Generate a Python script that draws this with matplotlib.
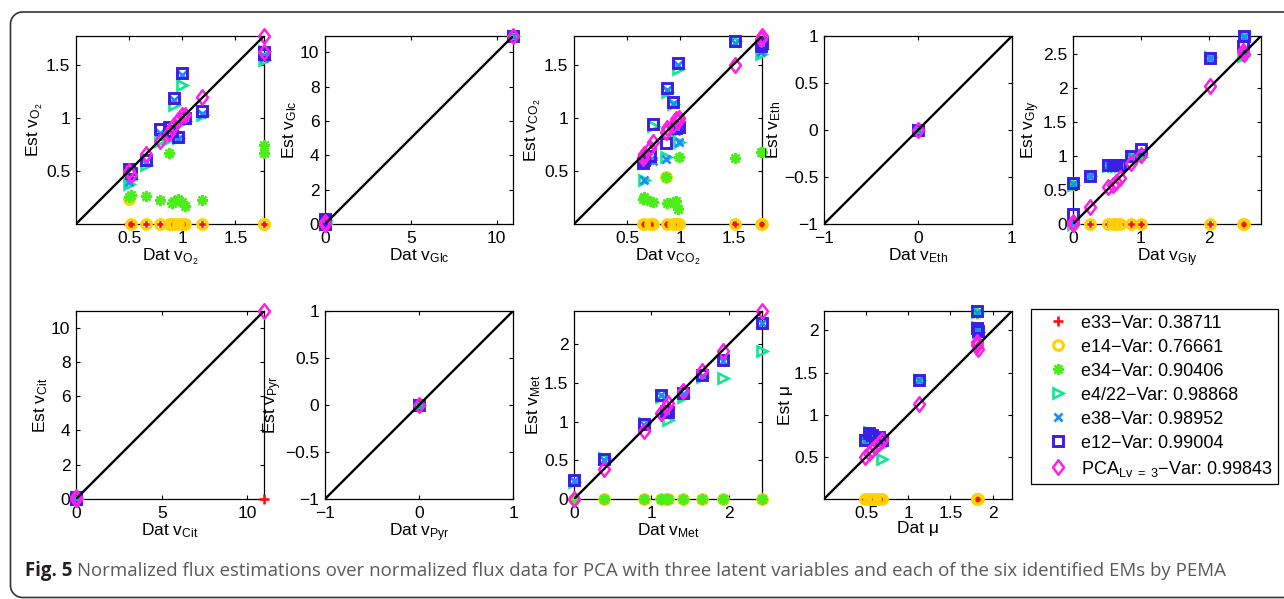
import math
import matplotlib
matplotlib.use("Agg")
import matplotlib.pyplot as plt
from matplotlib.lines import Line2D
from matplotlib.patches import PathPatch
from matplotlib.path import Path
from matplotlib.ticker import FuncFormatter
from matplotlib.transforms import IdentityTransform

plt.rcParams["font.family"] = ["Liberation Sans", "DejaVu Sans"]
plt.rcParams["mathtext.fontset"] = "custom"
plt.rcParams["mathtext.rm"] = "Liberation Sans"
plt.rcParams["mathtext.it"] = "Liberation Sans:italic"
plt.rcParams["mathtext.default"] = "regular"

NAN = float("nan")

# ---- elementary modes / PCA model and their explained variance ----
SERIES = ["e33", "e14", "e34", "e4/22", "e38", "e12", "PCA"]
VARIANCE = [0.38711, 0.76661, 0.90406, 0.98868, 0.98952, 0.99004, 0.99843]

# ---- normalized flux data (dat) and estimations per model, one block per flux ----
O2 = dict(
    dat=[0.50, 0.52, 0.66, 0.79, 0.88, 0.90, 0.92, 0.96, 1.00, 1.03, 1.19, 1.77, 1.77],
    e33=[0, 0, 0, 0, 0, 0, 0, 0, 0, 0, 0, 0, 0],
    e14=[0.24, 0, 0, 0, 0, 0, 0, 0, 0, 0, 0, 0, 0],
    e34=[0.25, 0.27, 0.26, 0.23, 0.67, 0.20, 0.22, 0.24, 0.21, 0.17, 0.23, 0.74, 0.67],
    e4_22=[0.38, 0.42, 0.56, 0.78, 0.80, 0.84, 1.12, 0.81, 1.31, 0.97, 1.03, 1.54, 1.63],
    e38=[0.40, 0.45, 0.58, 0.86, 0.88, 0.85, 1.17, 0.80, 1.40, 0.98, 1.04, 1.58, 1.56],
    e12=[0.52, 0.48, 0.60, 0.89, 0.91, 0.88, 1.19, 0.82, 1.42, 1.00, 1.06, 1.62, 1.60],
    pca=[0.50, 0.46, 0.66, 0.78, 0.86, 0.90, 0.93, 0.98, 1.03, 1.03, 1.20, 1.77, 1.62],
)
GLC = dict(
    dat=[0, 0, 0, 0, 10.95],
    e33=[0, 0, 0, 0, 10.95],
    e14=[0, 0, 0, 0, 10.95],
    e34=[0, 0, 0, 0, 10.95],
    e4_22=[0.25, 0.10, 0, 0, 10.95],
    e38=[0.20, 0.10, 0, 0, 10.95],
    e12=[0.30, 0.15, 0, 0, 10.95],
    pca=[0, 0.10, 0.05, 0, 10.95],
)
CO2 = dict(
    dat=[0.65, 0.66, 0.72, 0.74, 0.87, 0.88, 0.93, 0.96, 0.975, 0.99, 1.52, 1.76, 1.77],
    e33=[0, 0, 0, 0, 0, 0, 0, 0, 0, 0, 0, 0, 0],
    e14=[0, 0, 0, 0, 0.44, 0, 0, 0, 0, 0, 0, 0, 0],
    e34=[0.24, 0.25, 0.22, 0.21, 0.44, 0.20, 0.21, 0.22, 0.14, 0.63, 0.62, 0.68, 0.68],
    e4_22=[0.57, 0.41, 0.60, 0.92, 0.63, 1.24, 1.13, 0.88, 1.46, 0.77, 1.72, 1.60, 1.65],
    e38=[0.57, 0.41, 0.60, 0.59, 0.61, 1.26, 1.13, 0.88, 1.50, 0.77, 1.70, 1.62, 1.66],
    e12=[0.575, 0.60, 0.64, 0.94, 0.76, 1.28, 1.15, 0.90, 1.52, 0.91, 1.72, 1.68, 1.70],
    pca=[0.62, 0.66, 0.72, 0.77, 0.87, 0.90, 0.93, 0.99, 0.97, 1.00, 1.50, 1.74, 1.77],
)
ETH = dict(dat=[0], e33=[0], e14=[0], e34=[0], e4_22=[0], e38=[0], e12=[0], pca=[0])
GLY = dict(
    dat=[0, 0, 0.25, 0.51, 0.59, 0.63, 0.69, 0.86, 1.00, 2.02, 2.50, 2.52],
    e33=[0, 0, 0, 0, 0, 0, 0, 0, 0, 0, 0, 0],
    e14=[0, 0, 0, 0, 0, 0, 0, 0, 0, 0, 0, 0],
    e34=[0, 0.58, 0.70, 0.86, 0.86, 0.86, 0.86, 0.98, 1.00, 2.44, 2.47, 2.76],
    e4_22=[0, 0.57, 0.70, 0.86, 0.86, 0.86, 0.86, 0.98, 0.98, 2.46, 2.47, 2.76],
    e38=[0.02, 0.59, 0.71, 0.87, 0.87, 0.87, 0.87, 0.99, 1.05, 2.45, 2.55, 2.76],
    e12=[0.14, 0.60, 0.71, 0.87, 0.87, 0.87, 0.87, 1.00, 1.10, 2.45, 2.62, 2.77],
    pca=[0, 0.03, 0.25, 0.54, 0.58, 0.62, 0.68, 0.90, 1.02, 2.04, 2.55, 2.50],
)
CIT = dict(
    dat=[0, 0, 0, 10.97],
    e33=[0, 0, 0, 0],
    e14=[0, 0, 0, NAN],
    e34=[0, 0, 0, NAN],
    e4_22=[0, 0.05, 0, NAN],
    e38=[0, 0, 0, NAN],
    e12=[0, 0.10, 0, NAN],
    pca=[0, 0.10, 0, 10.97],
)
PYR = dict(dat=[0], e33=[0], e14=[0], e34=[0], e4_22=[0], e38=[0], e12=[0], pca=[0])
MET = dict(
    dat=[0, 0.385, 0.90, 1.13, 1.19, 1.22, 1.41, 1.65, 1.92, 2.43],
    e33=[0, 0, 0, 0, 0, 0, 0, 0, 0, 0],
    e14=[0, 0, 0, 0, 0, 0, 0, 0, 0, 0],
    e34=[0, 0, 0, 0, 0, 0, 0, 0, 0, 0],
    e4_22=[0.22, 0.53, 0.98, 1.32, 1.13, 1.02, 1.32, 1.58, 1.56, 1.91],
    e38=[0.23, 0.51, 0.96, 1.34, 1.13, 1.11, 1.36, 1.59, 1.79, 2.27],
    e12=[0.25, 0.52, 0.97, 1.35, 1.14, 1.12, 1.37, 1.60, 1.80, 2.28],
    pca=[0, 0.39, 0.88, 1.11, 1.19, 1.24, 1.40, 1.65, 1.91, 2.43],
)
MU = dict(
    dat=[0.49, 0.53, 0.57, 0.61, 0.65, 0.69, 1.13, 1.81, 1.82, 1.83],
    e33=[0, 0, 0, 0, 0, 0, 1.41, 0, 0, 0],
    e14=[0, 0, 0, 0, 0, 0, 1.41, 0, 0, 0],
    e34=[0.70, 0.78, 0.76, 0.71, 0.72, 0.68, 1.41, 2.21, 2.03, 1.98],
    e4_22=[0.70, 0.80, 0.76, 0.70, 0.62, 0.48, 1.41, 2.22, 2.04, 1.98],
    e38=[0.69, 0.77, 0.75, 0.71, 0.73, 0.68, 1.41, 2.21, 2.02, 1.98],
    e12=[0.70, 0.78, 0.76, 0.72, 0.74, 0.70, 1.41, 2.23, 2.03, 1.99],
    pca=[0.50, 0.54, 0.58, 0.62, 0.66, 0.70, 1.13, 1.83, 1.86, 1.78],
)

# axis labels and tick values per flux
FLUX_SUB = ["O_2", "Glc", "CO_2", "Eth", "Gly", "Cit", "Pyr", "Met", None]
FLUX_DATA = [O2, GLC, CO2, ETH, GLY, CIT, PYR, MET, MU]
X_TICKS = [[0.5, 1, 1.5], [0, 5, 10], [0.5, 1, 1.5], [-1, 0, 1], [0, 1, 2],
           [0, 5, 10], [-1, 0, 1], [0, 1, 2], [0.5, 1, 1.5, 2]]
Y_TICKS = [[0.5, 1, 1.5], [0, 2, 4, 6, 8, 10], [0.5, 1, 1.5], [-1, -0.5, 0, 0.5, 1],
           [0, 0.5, 1, 1.5, 2, 2.5], [0, 2, 4, 6, 8, 10], [-1, -0.5, 0, 0.5, 1],
           [0, 0.5, 1, 1.5, 2], [0.5, 1, 1.5, 2]]

# ---- marker styles ----
DIAMOND = Path([(0, 1), (0.75, 0), (0, -1), (-0.75, 0), (0, 1)],
               [Path.MOVETO, Path.LINETO, Path.LINETO, Path.LINETO, Path.CLOSEPOLY])
KEYS = ["e33", "e14", "e34", "e4_22", "e38", "e12", "pca"]
STYLES = [
    dict(marker="+", color="#ff1010", ms=6.5, mew=1.9),
    dict(marker="o", color="#ffd200", ms=7.0, mew=2.2),
    dict(marker=(8, 2, 0), color="#4ded1c", ms=8.0, mew=1.7),
    dict(marker=">", color="#12e690", ms=7.5, mew=1.9),
    dict(marker="x", color="#1a8cff", ms=5.5, mew=1.9),
    dict(marker="s", color="#3b1de6", ms=7.0, mew=2.1),
    dict(marker=DIAMOND, color="#ff1fe6", ms=10.5, mew=1.8),
]

W, H = 1284, 599
FS = 12.5
LEG_FS = 13.0
fig = plt.figure(figsize=(W / 100, H / 100), dpi=100)

COL_LEFT = [76, 325, 574, 824, 1073]
ROW_TOP = [36, 311]
SIZE = 188


def fmt(v, _pos):
    return ("%g" % v).replace("-", "\u2212")


for i, (data, sub) in enumerate(zip(FLUX_DATA, FLUX_SUB)):
    r, c = divmod(i, 5)
    ax = fig.add_axes([COL_LEFT[c] / W, 1 - (ROW_TOP[r] + SIZE) / H, SIZE / W, SIZE / H])
    for key, st in zip(KEYS, STYLES):
        ax.plot(data["dat"], data[key], linestyle="none", marker=st["marker"],
                markersize=st["ms"], markeredgewidth=st["mew"],
                markeredgecolor=st["color"], markerfacecolor="none",
                clip_on=False, zorder=3)
    values = [v for k in ["dat"] + KEYS for v in data[k] if not math.isnan(v)]
    lo, hi = min(values), max(values)
    if lo == hi:
        lo, hi = lo - 1, hi + 1
    ax.plot([lo, hi], [lo, hi], color="black", lw=1.7, zorder=4)
    ax.set_xlim(lo, hi)
    ax.set_ylim(lo, hi)
    ax.set_xticks(X_TICKS[i])
    ax.set_yticks(Y_TICKS[i])
    ax.xaxis.set_major_formatter(FuncFormatter(fmt))
    ax.yaxis.set_major_formatter(FuncFormatter(fmt))
    ax.tick_params(direction="in", length=3, width=0.8, top=True, right=True,
                   labelsize=FS, colors="black")
    ax.tick_params(axis="x", pad=5)
    ax.tick_params(axis="y", pad=4)
    for sp in ax.spines.values():
        sp.set_linewidth(0.9)
    if sub is None:
        ax.set_xlabel("Dat \u03bc", fontsize=FS, labelpad=0)
        ax.set_ylabel("Est \u03bc", fontsize=FS, labelpad=1)
    else:
        ax.set_xlabel("Dat v$_{%s}$" % sub, fontsize=FS, labelpad=0)
        ax.set_ylabel("Est v$_{%s}$" % sub, fontsize=FS, labelpad=1)

# ---- legend ----
handles = [Line2D([], [], linestyle="none", marker=st["marker"], markersize=st["ms"],
                  markeredgewidth=st["mew"], markeredgecolor=st["color"],
                  markerfacecolor="none") for st in STYLES]
labels = []
for name, var in zip(SERIES, VARIANCE):
    shown = r"PCA$_{Lv\ =\ 3}$" if name == "PCA" else name
    labels.append("%s\u2212Var: %.5f" % (shown, var))
leg = fig.legend(handles, labels, loc="upper left", bbox_to_anchor=(1031 / W, 1 - 309 / H),
                 frameon=True, fancybox=False, edgecolor="black", framealpha=1,
                 fontsize=LEG_FS, borderaxespad=0, borderpad=0.3, handlelength=2.4,
                 handletextpad=0.07, handleheight=0.9, labelspacing=0.35)
leg.get_frame().set_linewidth(0.9)

# ---- caption and rounded frame ----
cap_y = 1 - 576 / H
CAP_FS = 13.4
t1 = fig.text(25 / W, cap_y, "Fig. 5", fontsize=CAP_FS, fontweight="bold",
              family="Open Sans", color="#231f20", va="baseline")
fig.canvas.draw()
bb = t1.get_window_extent()
fig.text((bb.x1 + 5) / W, cap_y,
         "Normalized flux estimations over normalized flux data for PCA with three latent "
         "variables and each of the six identified EMs by PEMA",
         fontsize=CAP_FS, family="Open Sans", color="#58595b", va="baseline")

# open frame: left side with rounded corners, running off the right edge
x0, y_bot, y_top, rad = 10.5, 1.5, H - 12.0, 12.0
k = 0.5523 * rad
frame_path = Path(
    [(W + 20, y_bot), (x0 + rad, y_bot),
     (x0 + rad - k, y_bot), (x0, y_bot + rad - k), (x0, y_bot + rad),
     (x0, y_top - rad),
     (x0, y_top - rad + k), (x0 + rad - k, y_top), (x0 + rad, y_top),
     (W + 20, y_top)],
    [Path.MOVETO, Path.LINETO,
     Path.CURVE4, Path.CURVE4, Path.CURVE4,
     Path.LINETO,
     Path.CURVE4, Path.CURVE4, Path.CURVE4,
     Path.LINETO])
fig.patches.append(PathPatch(frame_path, transform=IdentityTransform(),
                             facecolor="none", edgecolor="#333333", lw=1.2))

fig.savefig("out.png", dpi=100)
